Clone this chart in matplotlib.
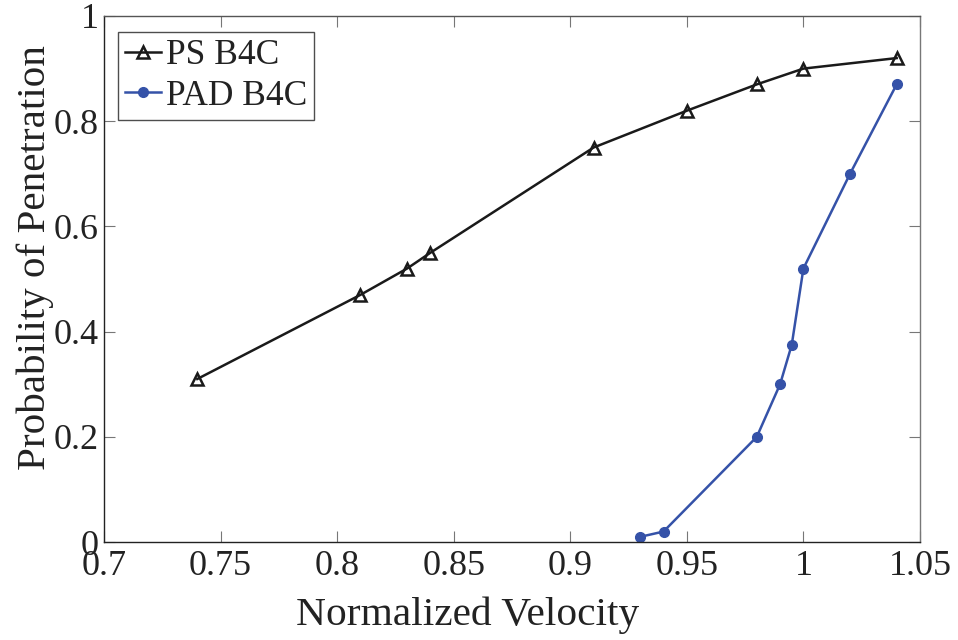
import matplotlib
matplotlib.use("Agg")
import matplotlib.pyplot as plt

ps_x = [0.74, 0.81, 0.83, 0.84, 0.91, 0.95, 0.98, 1.00, 1.04]
ps_y = [0.31, 0.47, 0.52, 0.55, 0.75, 0.82, 0.87, 0.90, 0.92]
pad_x = [0.93, 0.94, 0.98, 0.99, 0.995, 1.00, 1.02, 1.04]
pad_y = [0.01, 0.02, 0.20, 0.30, 0.375, 0.52, 0.70, 0.87]
xticks = [0.7, 0.75, 0.8, 0.85, 0.9, 0.95, 1.0, 1.05]
xtick_labels = ["0.7", "0.75", "0.8", "0.85", "0.9", "0.95", "1", "1.05"]
yticks = [0, 0.2, 0.4, 0.6, 0.8, 1.0]
ytick_labels = ["0", "0.2", "0.4", "0.6", "0.8", "1"]

plt.rcParams['font.family'] = ['Liberation Serif', 'DejaVu Serif']

fig = plt.figure(figsize=(9.58, 6.4), dpi=100)
ax = fig.add_axes([0.1086, 0.153, 0.8517, 0.822])

ax.plot(ps_x, ps_y, color='#1a1a1a', lw=1.8, marker='^', markersize=9,
        markerfacecolor='none', markeredgecolor='#1a1a1a', markeredgewidth=1.8, label='PS B4C')
ax.plot(pad_x, pad_y, color='#3552a8', lw=1.8, marker='o', markersize=7,
        markerfacecolor='#3552a8', markeredgecolor='#3552a8', label='PAD B4C')

ax.set_xlim(0.7, 1.05)
ax.set_ylim(0, 1)
ax.set_xticks(xticks)
ax.set_xticklabels(xtick_labels)
ax.set_yticks(yticks)
ax.set_yticklabels(ytick_labels)
ax.tick_params(direction='in', length=8, width=0.8, color='#777777', labelsize=26,
               top=True, right=True, labelcolor='#222222')
ax.tick_params(axis='x', pad=6)
ax.tick_params(axis='y', pad=4)
for s in ax.spines.values():
    s.set_linewidth(1.0)
ax.spines['top'].set_color('#555555')
ax.spines['right'].set_color('#777777')
ax.spines['left'].set_color('#222222')
ax.spines['bottom'].set_color('#222222')

ax.set_xlabel('Normalized Velocity', fontsize=29.8, color='#222222')
ax.set_ylabel('Probability of Penetration', fontsize=29.6, color='#222222')
ax.xaxis.set_label_coords(0.446, -0.1027)
ax.yaxis.set_label_coords(-0.061, 0.540)

leg = ax.legend(loc='upper left', fontsize=25.5, frameon=True, fancybox=False,
                edgecolor='#222222', borderpad=0.2, handlelength=1.0, handletextpad=0.15,
                labelspacing=0.22, borderaxespad=0.0, bbox_to_anchor=(0.0172, 0.9696))
leg.get_frame().set_linewidth(1.0)
for t in leg.get_texts():
    t.set_color('#222222')

fig.savefig('out.png', dpi=100)
